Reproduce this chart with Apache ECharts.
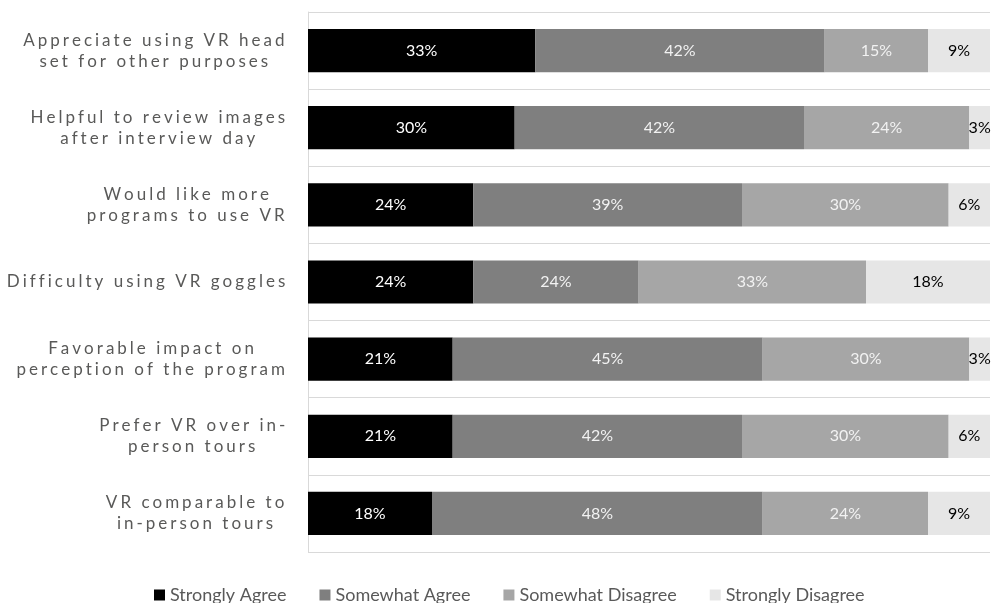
<!DOCTYPE html>
<html>
<head>
<meta charset="utf-8">
<script src="https://cdn.jsdelivr.net/npm/echarts@6/dist/echarts.min.js"></script>
<style>
html,body{margin:0;padding:0;background:#fff;}
#chart{width:992px;height:603px;}
</style>
</head>
<body>
<div id="chart"></div>
<script>
// ---- data ----
const categories = [
  "Appreciate using VR head\nset for other purposes",
  "Helpful to review images\nafter interview day",
  "Would like more\nprograms to use VR",
  "Difficulty using VR goggles",
  "Favorable impact on\nperception of the program",
  "Prefer VR over in-\nperson tours",
  "VR comparable to\nin-person tours"
];
const seriesNames = ["Strongly Agree", "Somewhat Agree", "Somewhat Disagree", "Strongly Disagree"];
const stronglyAgree    = [33, 30, 24, 24, 21, 21, 18];
const somewhatAgree    = [42, 42, 39, 24, 45, 42, 48];
const somewhatDisagree = [15, 24, 30, 33, 30, 30, 24];
const stronglyDisagree = [9, 3, 6, 18, 3, 6, 9];

// Tracked (letter-spaced) text for the category labels, identified by their unique colour.
const CAT_COLOR = '#595958';
const SP = 3;
const lineGroup = {};
categories.forEach(c => { const ls = c.split('\n'); ls.forEach(l => { lineGroup[l] = ls; }); });
(function(){
  const P = CanvasRenderingContext2D.prototype;
  const orig = P.fillText;
  P.fillText = function(t, x, y, w){
    if (this.fillStyle === CAT_COLOR && lineGroup[t]) {
      const ls = lineGroup[t];
      const wn = this.measureText(t).width;
      const a = this.textAlign;
      const cNat = a === 'center' ? x : ((a === 'right' || a === 'end') ? x - wn / 2 : x + wn / 2);
      const widths = ls.map(l => this.measureText(l).width);
      const Wn = Math.max.apply(null, widths);
      const B = Math.max.apply(null, ls.map((l, i) => widths[i] + SP * (l.length - 1)));
      const R = cNat + Wn / 2;
      const Ws = wn + SP * (t.length - 1);
      let sx = R - B / 2 - Ws / 2;
      const prevAlign = this.textAlign;
      this.textAlign = 'left';
      for (const ch of t) {
        orig.call(this, ch, sx, y);
        sx += this.measureText(ch).width + SP;
      }
      this.textAlign = prevAlign;
      return;
    }
    return (w === undefined) ? orig.call(this, t, x, y) : orig.call(this, t, x, y, w);
  };
})();

const colors = ['#000000', '#7f7f7f', '#a6a6a6', '#e6e6e6'];
const labelColors = ['#ffffff', '#f2f2f2', '#f2f2f2', '#000000'];
const values = [stronglyAgree, somewhatAgree, somewhatDisagree, stronglyDisagree];

const chart = echarts.init(document.getElementById('chart'), null, {renderer: 'canvas'});
chart.setOption({
  animation: false,
  backgroundColor: '#ffffff',
  color: colors,
  grid: {left: 308, right: 2, top: 12, bottom: 51, containLabel: false},
  legend: {
    left: 154, top: 586, padding: 0,
    icon: 'rect', itemWidth: 11, itemHeight: 11, itemGap: 33,
    textStyle: {fontFamily: 'Lato', fontSize: 18, color: '#595959'},
    data: seriesNames
  },
  xAxis: {
    type: 'value', min: 0, max: 99,
    axisLabel: {show: false}, axisLine: {show: false}, axisTick: {show: false}, splitLine: {show: false}
  },
  yAxis: {
    type: 'category', inverse: true, data: categories,
    axisLine: {show: true, lineStyle: {color: '#d9d9d9', width: 1}},
    axisTick: {show: false},
    splitLine: {show: true, lineStyle: {color: '#d9d9d9', width: 1}},
    axisLabel: {
      margin: 24,
      formatter: v => v.split('\n').map(s => '{c|' + s + '}').join('\n'),
      rich: {c: {align: 'center', fontFamily: 'Lato', fontSize: 17, lineHeight: 21, color: CAT_COLOR}}
    }
  },
  series: seriesNames.map((name, i) => ({
    name: name, type: 'bar', stack: 'total', data: values[i],
    barCategoryGap: '44%',
    itemStyle: {color: colors[i]},
    label: {
      show: true, position: 'inside', formatter: '{c}%',
      fontFamily: 'Lato', fontSize: 16, color: labelColors[i]
    }
  }))
});
</script>
</body>
</html>
